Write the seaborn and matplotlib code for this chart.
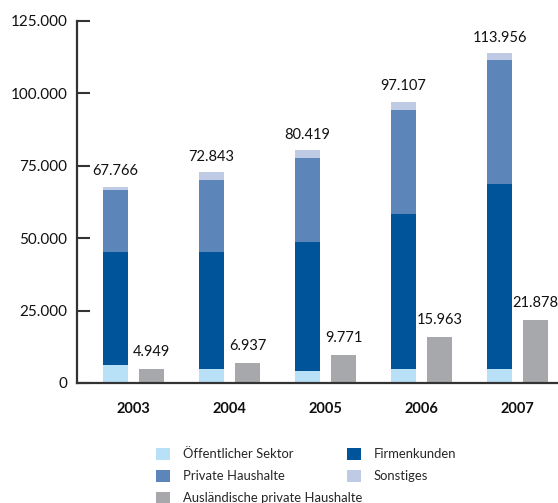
import numpy as np
import pandas as pd
import matplotlib
matplotlib.use("Agg")
import matplotlib.pyplot as plt
from matplotlib.patches import Patch
import seaborn as sns

years = ["2003", "2004", "2005", "2006", "2007"]
oeffentlich = [6300, 4800, 4150, 4830, 4830]
firmenkunden = [38900, 40400, 44550, 53530, 63890]
private = [21450, 24900, 29000, 35910, 42820]
sonstiges = [1116, 2743, 2719, 2837, 2416]
totals = [67766, 72843, 80419, 97107, 113956]
auslaendisch = [4949, 6937, 9771, 15963, 21878]
tick_values = [0, 25000, 50000, 75000, 100000, 125000]
tick_labels = ["0", "25.000", "50.000", "75.000", "100.000", "125.000"]
legend_left = ["Öffentlicher Sektor", "Private Haushalte", "Ausländische private Haushalte"]
legend_right = ["Firmenkunden", "Sonstiges"]

c_oeff = "#b8e0f6"
c_firm = "#00559a"
c_priv = "#5c86b9"
c_sons = "#bfcae4"
c_ausl = "#a7a8ab"

sns.set_theme(style="white")
plt.rcParams["font.family"] = ["Lato", "DejaVu Sans"]

fig = plt.figure(figsize=(5.58, 5.03), dpi=100)
ax = fig.add_axes([77 / 558, 1 - 383 / 503, 1 - 77 / 558, (383 - 21) / 503])

o = np.array(oeffentlich)
f = np.array(firmenkunden)
p = np.array(private)
s = np.array(sonstiges)
layers = [
    (o + f + p + s, np.array(auslaendisch), c_sons),
    (o + f + p, np.zeros(5), c_priv),
    (o + f, np.zeros(5), c_firm),
    (o, np.zeros(5), c_oeff),
]
for main_vals, foreign_vals, col in layers:
    df = pd.DataFrame({
        "year": years * 2,
        "value": list(main_vals) + list(foreign_vals),
        "group": ["main"] * 5 + ["foreign"] * 5,
    })
    sns.barplot(data=df, x="year", y="value", hue="group",
                hue_order=["main", "foreign"], order=years,
                palette={"main": col, "foreign": c_ausl},
                width=0.75, gap=0.3, dodge=True, saturation=1,
                linewidth=0, errorbar=None, legend=False, ax=ax)

off = 0.1875
for i in range(5):
    ax.annotate(f"{totals[i]:,}".replace(",", "."), (i - off, totals[i]),
                xytext=(0, 6), textcoords="offset points", ha="center",
                va="bottom", fontsize=10.5, color="#111111")
    ax.annotate(f"{auslaendisch[i]:,}".replace(",", "."), (i + off, auslaendisch[i]),
                xytext=(0, 7), textcoords="offset points", ha="center",
                va="bottom", fontsize=10.5, color="#111111")

ax.set_xlim(-0.589, 4.42)
ax.set_ylim(0, 125000)
ax.set_yticks(tick_values)
ax.set_yticklabels(tick_labels)
ax.set_xlabel("")
ax.set_ylabel("")
for sp in ["top", "right"]:
    ax.spines[sp].set_visible(False)
for sp in ["left", "bottom"]:
    ax.spines[sp].set_color("#333333")
    ax.spines[sp].set_linewidth(1.6)
ax.tick_params(axis="y", direction="in", length=9.5, width=1.5, color="#333333",
               pad=7, labelsize=11, labelcolor="#111111", left=True)
ax.tick_params(axis="x", length=0, pad=14, labelsize=10.5, labelcolor="#111111")
for lab in ax.get_xticklabels():
    lab.set_fontweight("bold")

h_left = [Patch(facecolor=c, edgecolor="none") for c in [c_oeff, c_priv, c_ausl]]
h_right = [Patch(facecolor=c, edgecolor="none") for c in [c_firm, c_sons]]
common = dict(loc="upper left", frameon=False, fontsize=9.4, handlelength=1.1,
              handleheight=1.1, handletextpad=1.0, labelspacing=0.72, borderpad=0)
leg1 = fig.legend(h_left, legend_left, bbox_to_anchor=(149 / 558, 1 - 441 / 503), **common)
leg2 = fig.legend(h_right, legend_right, bbox_to_anchor=(340 / 558, 1 - 441 / 503), **common)

fig.savefig("out.png", dpi=100)
